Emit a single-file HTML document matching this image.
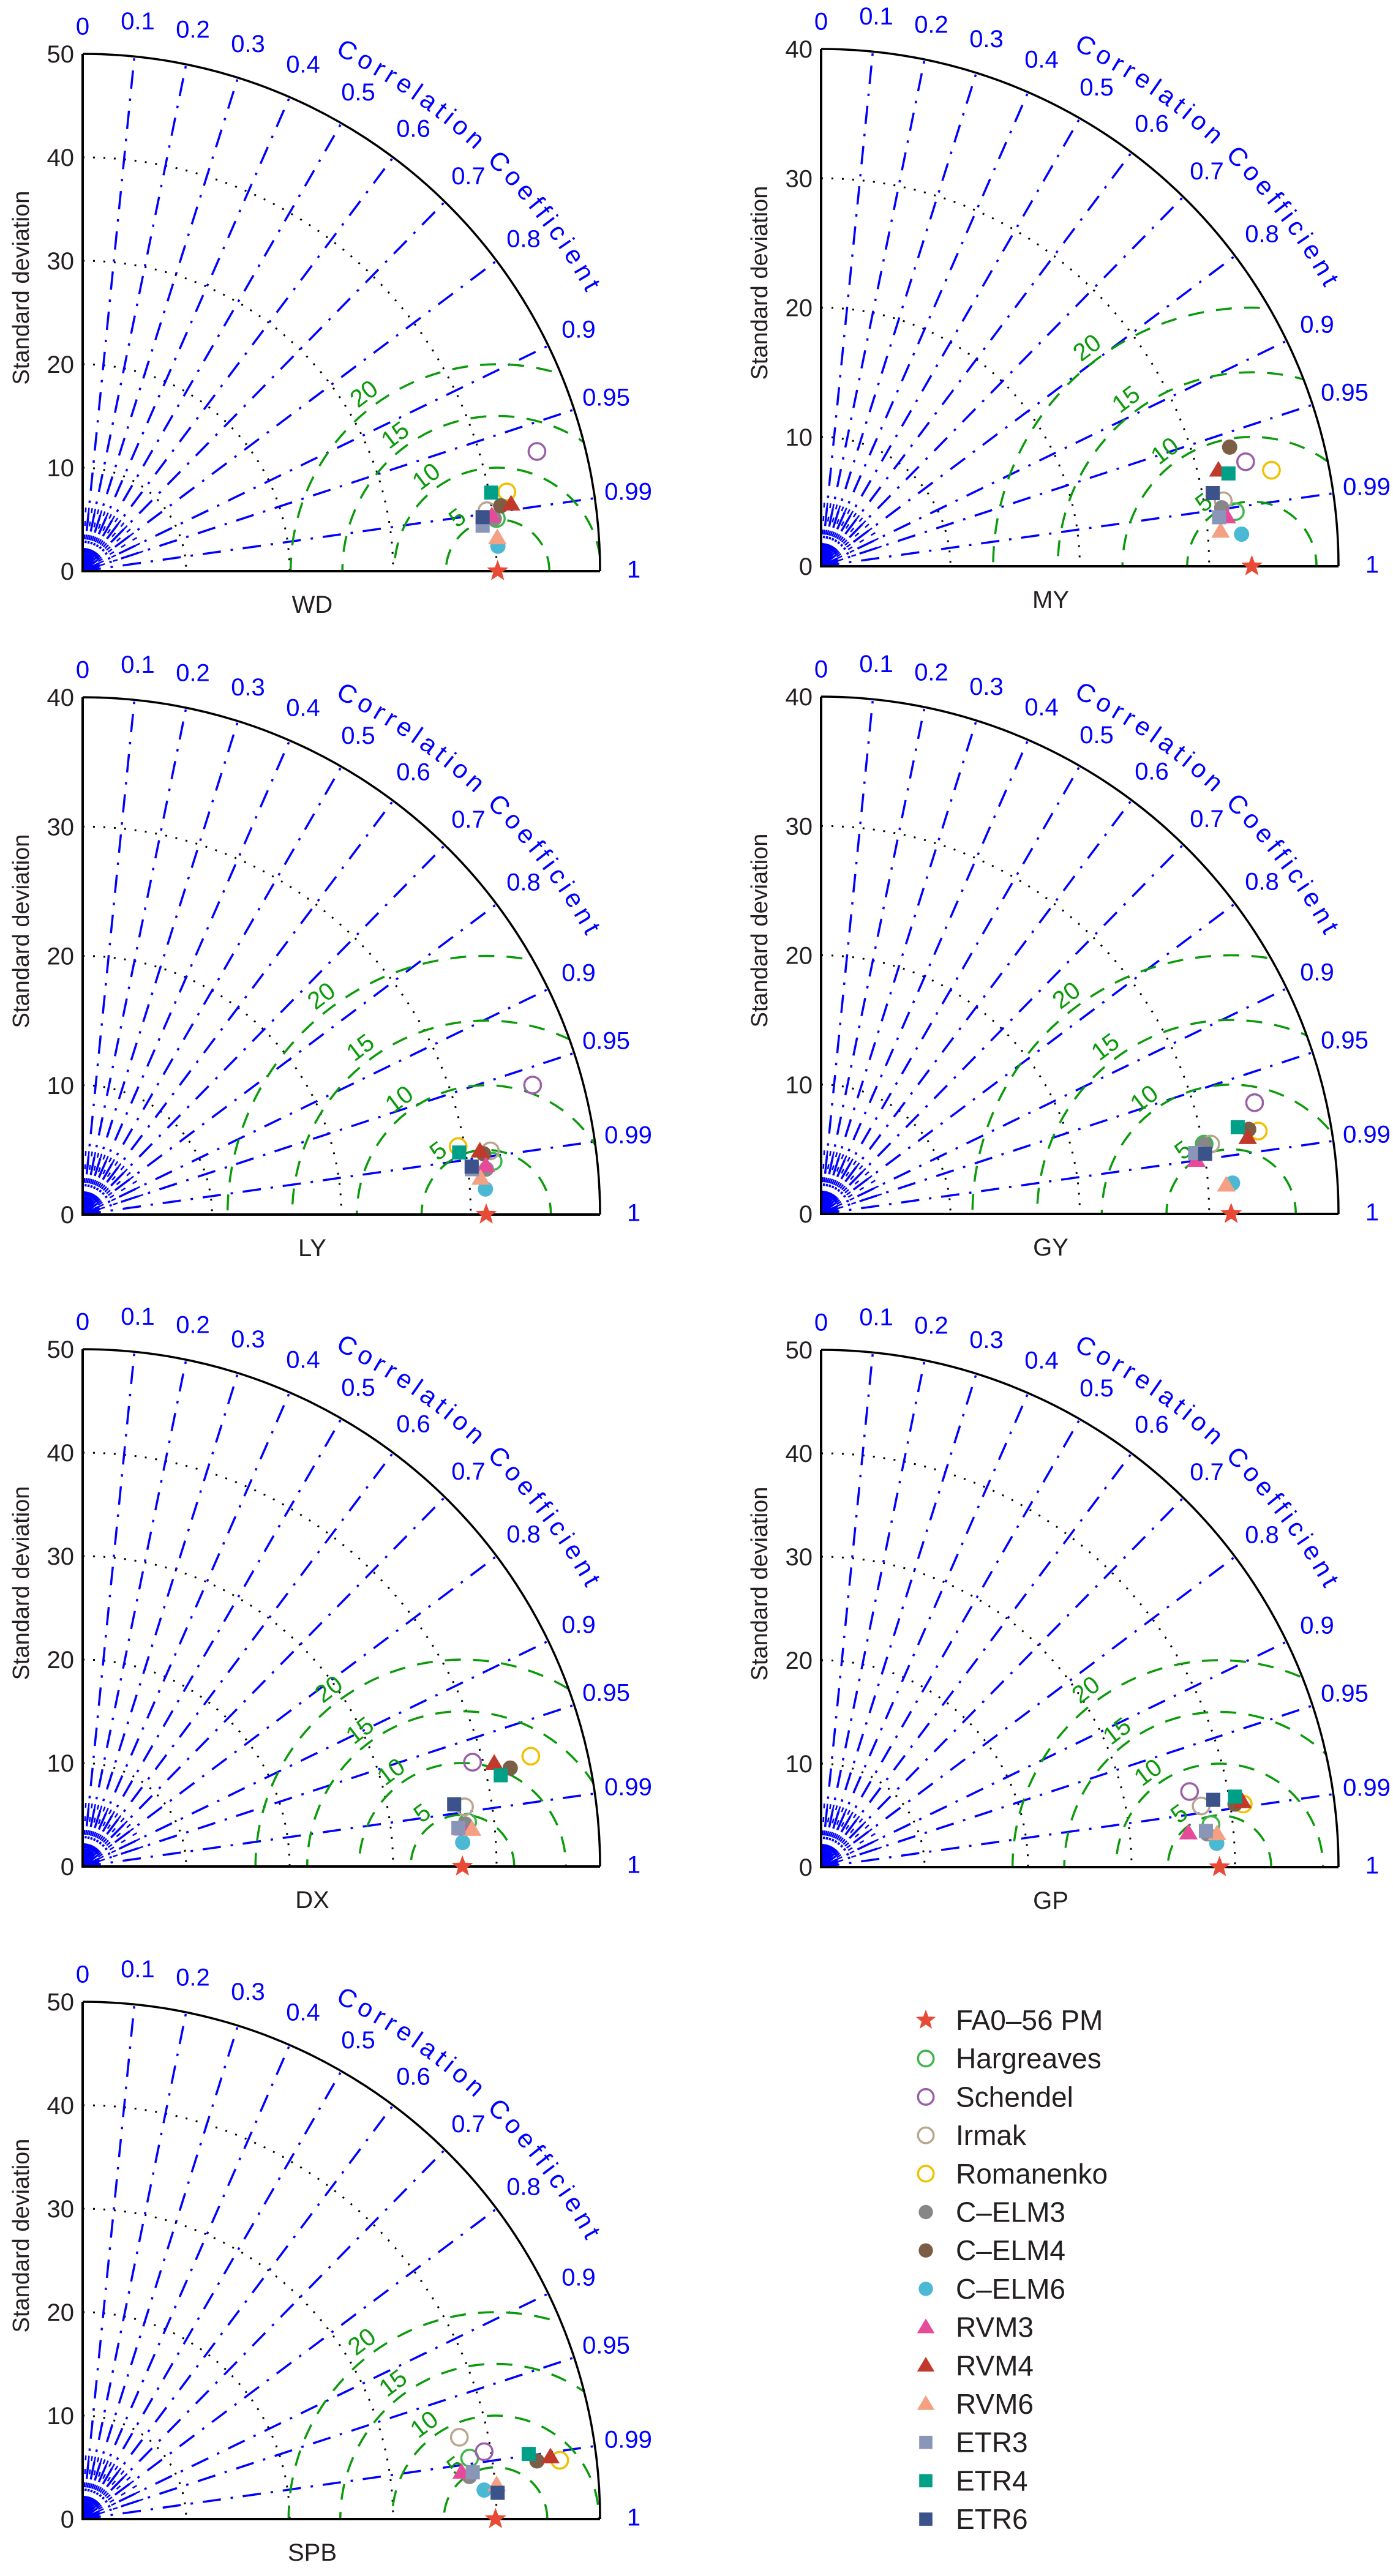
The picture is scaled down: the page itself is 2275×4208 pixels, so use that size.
<!DOCTYPE html>
<html>
<head>
<meta charset="utf-8">
<style>
html,body{margin:0;padding:0;background:#fff;width:2275px;height:4208px;overflow:hidden;}
#chart{position:absolute;left:0;top:0;width:2275px;height:4208px;display:block;}
svg text{font-family:"Liberation Sans",sans-serif;}
</style>
</head>
<body>
<svg id="chart" width="2275" height="4208" viewBox="0 0 2275 4208" xmlns="http://www.w3.org/2000/svg" overflow="hidden"></svg>
<script>
// ---------- data ----------
const methods = ["FA0\u201356 PM","Hargreaves","Schendel","Irmak","Romanenko","C\u2013ELM3","C\u2013ELM4","C\u2013ELM6","RVM3","RVM4","RVM6","ETR3","ETR4","ETR6"];
const panelNames = ["WD","MY","LY","GY","DX","GP","SPB"];
const panelMax = [50,40,40,40,50,50,50];
const corrTicks = [0,0.1,0.2,0.3,0.4,0.5,0.6,0.7,0.8,0.9,0.95,0.99,1];
const rmsTicks = [5,10,15,20];
// standard deviation per method (first = reference FAO-56 PM) and correlation
const sdWD  = [40.1,40.3,45.4,39.5,41.7,40.1,40.9,40.2,39.9,41.9,40.2,38.9,40.2,39.0];
const ccWD  = [1,.992,.967,.989,.983,.992,.988,.9982,.991,.988,.9968,.9936,.982,.991];
const sdMY  = [33.3,32.3,33.8,31.5,35.6,31.3,32.9,32.6,31.6,31.6,31.0,31.0,32.3,30.8];
const ccMY  = [1,.9914,.971,.987,.978,.9895,.960,.9971,.9927,.972,.9962,.9925,.975,.983];
const sdLY  = [31.2,32.0,36.2,31.9,29.5,31.4,31.35,31.2,31.4,31.1,30.9,30.3,29.5,30.3];
const ccLY  = [1,.9917,.961,.988,.984,.9937,.9887,.998,.9927,.9875,.9959,.9933,.9867,.9925];
const sdGY  = [31.7,30.1,34.6,30.6,34.4,30.1,33.7,31.9,29.3,33.5,31.4,29.3,32.9,30.05];
const ccGY  = [1,.9838,.9686,.9843,.9825,.984,.981,.9972,.990,.9844,.9975,.987,.979,.988];
const sdDX  = [36.7,37.45,39.0,37.35,44.6,37.2,42.4,36.8,36.9,41.0,37.8,36.5,41.35,36.4];
const ccDX  = [1,.9934,.966,.988,.971,.9939,.9745,.998,.9952,.970,.9955,.9948,.977,.9863];
const sdGP  = [38.5,37.9,36.35,37.2,41.25,37.45,40.46,38.3,35.65,41.2,38.4,37.35,40.57,38.45];
const ccGP  = [1,.9941,.9796,.9873,.989,.9963,.9886,.9982,.9957,.9882,.9965,.9956,.9858,.9856];
const sdSPB = [39.9,37.86,39.34,37.25,46.45,37.6,44.26,38.9,36.9,45.6,40.14,37.97,43.56,40.18];
const ccSPB = [1,.9878,.9862,.9772,.9925,.9940,.9919,.9974,.9925,.9913,.9966,.9929,.9895,.998];
const allSd = [sdWD,sdMY,sdLY,sdGY,sdDX,sdGP,sdSPB];
const allCc = [ccWD,ccMY,ccLY,ccGY,ccDX,ccGP,ccSPB];

// ---------- styling / layout (not data) ----------
const colors = ["#e84a35","#3cb54a","#9a5fa8","#b9a68f","#f2c000","#878787","#7b5e45","#4bb8d4","#e84a9a","#c0392b","#f4a083","#8a96b8","#00a088","#3c528a"];
const shapes = ["star","ocirc","ocirc","ocirc","ocirc","circ","circ","circ","tri","tri","tri","sq","sq","sq"];
const origins = [[135,933],[1341,925],[135,1984],[1341,1983],[135,3049],[1341,3050],[135,4115]];
const R = 845;
const NS = "http://www.w3.org/2000/svg";
const svg = document.getElementById("chart");

function mk(tag, attrs, parent){
  const el = document.createElementNS(NS, tag);
  for (const k in attrs) el.setAttribute(k, attrs[k]);
  (parent||svg).appendChild(el);
  return el;
}

function drawMarker(g, shape, color, x, y, s){
  let el;
  if (shape === "star"){
    let pts = [];
    for (let i=0;i<10;i++){
      const a = -Math.PI/2 + i*Math.PI/5;
      const rr = (i%2===0)? s*1.15 : s*0.48;
      pts.push((x+rr*Math.cos(a)).toFixed(1)+","+(y+rr*Math.sin(a)).toFixed(1));
    }
    el = mk("polygon",{points:pts.join(" "),fill:color},g);
  } else if (shape === "ocirc"){
    el = mk("circle",{cx:x,cy:y,r:s*0.85,fill:"none",stroke:color,"stroke-width":3.5},g);
  } else if (shape === "circ"){
    el = mk("circle",{cx:x,cy:y,r:s*0.78,fill:color},g);
  } else if (shape === "tri"){
    el = mk("polygon",{points:`${x},${y-s*0.95} ${x+s*0.95},${y+s*0.65} ${x-s*0.95},${y+s*0.65}`,fill:color},g);
  } else {
    el = mk("rect",{x:x-s*0.72,y:y-s*0.72,width:s*1.44,height:s*1.44,fill:color},g);
  }
  return el;
}

function drawPanel(p){
  const [ox, oy] = origins[p];
  const maxSd = panelMax[p];
  const k = R / maxSd;
  const sx = (sd, cc) => ox + sd*k*cc;
  const sy = (sd, cc) => oy - sd*k*Math.sqrt(Math.max(0,1-cc*cc));
  const g = mk("g",{});
  
  

  const clipId = "clip"+p;
  const cp = mk("clipPath",{id:clipId},g);
  mk("path",{d:`M${ox},${oy} L${ox+R},${oy} A${R},${R} 0 0 0 ${ox},${oy-R} Z`},cp);

  // std-dev dotted arcs
  for (let v=10; v<maxSd; v+=10){
    const r = v*k;
    const a = mk("path",{d:`M${ox},${oy-r} A${r},${r} 0 0 1 ${ox+r},${oy}`,fill:"none",stroke:"#000","stroke-width":3,"stroke-dasharray":"3,14"},g);
    
    
  }
  // correlation radial lines
  for (const c of corrTicks){
    if (c===0 || c===1) continue;
    const th = Math.acos(c);
    const l = mk("line",{x1:ox,y1:oy,x2:ox+R*Math.cos(th),y2:oy-R*Math.sin(th),stroke:"#0000ff","stroke-width":3.5,"stroke-dasharray":"30,16,4,16"},g);
    
    
  }
  // fan of ticks near origin
  for (let c=0.05; c<1; c+=0.05){
    const th = Math.acos(c);
    mk("line",{x1:ox+30*Math.cos(th),y1:oy-30*Math.sin(th),x2:ox+110*Math.cos(th),y2:oy-110*Math.sin(th),stroke:"#0000ff","stroke-width":2.5,"stroke-dasharray":"8,14"},g);
  }
  for (let c=0.92; c<1; c+=0.02){
    const th = Math.acos(c);
    mk("line",{x1:ox,y1:oy,x2:ox+28*Math.cos(th),y2:oy-28*Math.sin(th),stroke:"#0000ff","stroke-width":3},g);
  }
  // RMS green circles
  const ref = allSd[p][0]*k;
  const gg = mk("g",{"clip-path":`url(#${clipId})`},g);
  for (const v of rmsTicks){
    const r = v*k;
    const c = mk("circle",{cx:ox+ref,cy:oy,r:r,fill:"none",stroke:"#0a9a0a","stroke-width":3.5,"stroke-dasharray":"26,20"},gg);
    
    
  }
  for (const v of rmsTicks){
    const th = 127*Math.PI/180;
    const rr = v*k + 22;
    const t = mk("text",{x:ox+ref+rr*Math.cos(th),y:oy-rr*Math.sin(th),fill:"#0a9a0a","font-size":40,"text-anchor":"middle","dominant-baseline":"middle",transform:`rotate(-37 ${ox+ref+rr*Math.cos(th)} ${oy-rr*Math.sin(th)})`},g);
    t.textContent = v;
    
    
  }
  // axes and outer arc
  const ax = mk("path",{d:`M${ox},${oy-R} L${ox},${oy} L${ox+R},${oy}`,fill:"none",stroke:"#000","stroke-width":4},g);
  
  
  const arc = mk("path",{d:`M${ox},${oy-R} A${R},${R} 0 0 1 ${ox+R},${oy}`,fill:"none",stroke:"#000","stroke-width":3.5},g);
  
  
  // y ticks
  for (let v=0; v<=maxSd; v+=10){
    const t = mk("text",{x:ox-14,y:oy-v*k+14,"font-size":40,"text-anchor":"end",fill:"#231f20"},g);
    t.textContent = v;
    
    
  }
  const yt = mk("text",{x:0,y:0,"font-size":38,"text-anchor":"middle",fill:"#231f20",transform:`translate(${ox-88},${oy-463}) rotate(-90)`},g);
  yt.textContent = "Standard deviation";
  
  
  // correlation labels
  for (const c of corrTicks){
    const th = Math.acos(c);
    const rr = (c===0)? R+42 : R+55;
    const t = mk("text",{x:ox+rr*Math.cos(th),y:oy-rr*Math.sin(th),"font-size":40,"text-anchor":"middle","dominant-baseline":"middle",fill:"#0000ff"},g);
    t.textContent = String(c);
    
    
  }
  // curved title
  const rt = R + 95;
  const a1 = 64*Math.PI/180, a2 = 28*Math.PI/180;
  const pid = "cpath"+p;
  mk("path",{id:pid,d:`M${ox+rt*Math.cos(a1)},${oy-rt*Math.sin(a1)} A${rt},${rt} 0 0 1 ${ox+rt*Math.cos(a2)},${oy-rt*Math.sin(a2)}`,fill:"none"},g);
  const ct = mk("text",{"font-size":42,fill:"#0000ff"},g);
  
  
  const tp = mk("textPath",{href:"#"+pid,textLength:575,lengthAdjust:"spacing"},ct);
  tp.textContent = "Correlation Coefficient";
  // panel label
  const pl = mk("text",{x:ox+375,y:oy+68,"font-size":40,"text-anchor":"middle",fill:"#231f20"},g);
  pl.textContent = panelNames[p];
  
  
  // markers (reference drawn last)
  const order = [1,2,3,4,5,6,7,8,9,10,11,12,13,0];
  for (const i of order){
    const sd = allSd[p][i], cc = allCc[p][i];
    const m = drawMarker(g, shapes[i], colors[i], sx(sd,cc), sy(sd,cc), 16);
    
    
  }
}

for (let p=0; p<panelNames.length; p++) drawPanel(p);

// legend
const lg = mk("g",{});


for (let i=0;i<methods.length;i++){
  const y = 3300 + i*62.7;
  const m = drawMarker(lg, shapes[i], colors[i], 1512, y, 15);
  
  
  const t = mk("text",{x:1561,y:y+16,"font-size":46,fill:"#231f20"},lg);
  t.textContent = methods[i];
  
  
}
</script>
</body>
</html>
